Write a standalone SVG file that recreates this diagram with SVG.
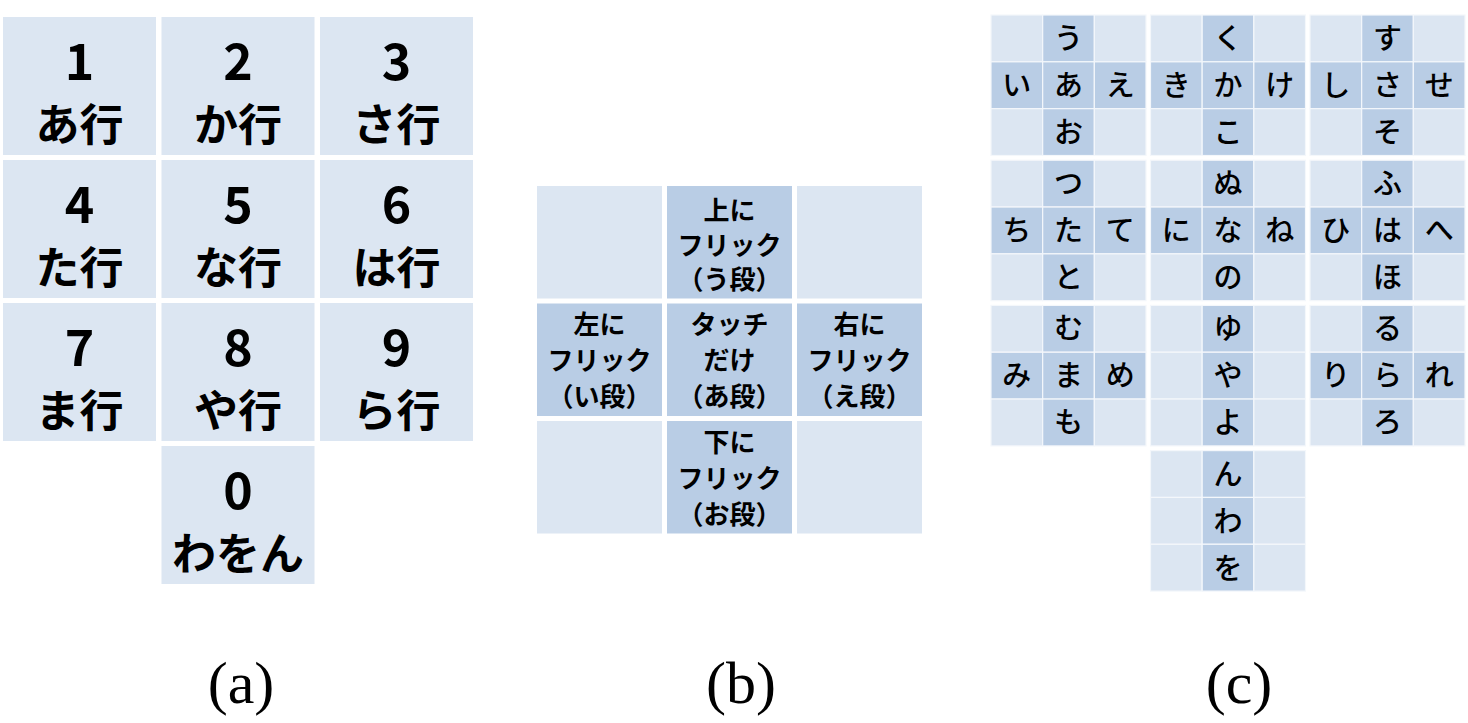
<svg xmlns="http://www.w3.org/2000/svg" width="1468" height="723" viewBox="0 0 1468 723">
<style>
.l{fill:#DCE6F2}
.d{fill:#B9CDE5}
.cc{stroke:#F4F7FB;stroke-width:1.2}
.jp{font-family:"Noto Sans CJK JP","Noto Sans",sans-serif;fill:#000;text-anchor:middle}
.num{font-size:50px;font-weight:bold}
.row{font-size:44px;font-weight:bold}
.fl{font-size:26px;font-weight:bold}
.k{font-size:29px;font-weight:500}
.cap{font-family:"Liberation Serif","Times New Roman",serif;font-size:60px;fill:#000;text-anchor:middle}
</style>
<rect width="1468" height="723" fill="#fff"/>

<!-- Panel (a) -->
<g id="panel-a">
<g id="key-1"><rect class="l" x="3" y="17" width="153" height="138"/><text class="jp num" x="79.5" y="80">1</text><text class="jp row" x="79.5" y="141">あ行</text></g>
<g id="key-2"><rect class="l" x="161.5" y="17" width="153" height="138"/><text class="jp num" x="238" y="80">2</text><text class="jp row" x="238" y="141">か行</text></g>
<g id="key-3"><rect class="l" x="320" y="17" width="153" height="138"/><text class="jp num" x="396.5" y="80">3</text><text class="jp row" x="396.5" y="141">さ行</text></g>
<g id="key-4"><rect class="l" x="3" y="160" width="153" height="138"/><text class="jp num" x="79.5" y="223">4</text><text class="jp row" x="79.5" y="284">た行</text></g>
<g id="key-5"><rect class="l" x="161.5" y="160" width="153" height="138"/><text class="jp num" x="238" y="223">5</text><text class="jp row" x="238" y="284">な行</text></g>
<g id="key-6"><rect class="l" x="320" y="160" width="153" height="138"/><text class="jp num" x="396.5" y="223">6</text><text class="jp row" x="396.5" y="284">は行</text></g>
<g id="key-7"><rect class="l" x="3" y="303" width="153" height="138"/><text class="jp num" x="79.5" y="366">7</text><text class="jp row" x="79.5" y="427">ま行</text></g>
<g id="key-8"><rect class="l" x="161.5" y="303" width="153" height="138"/><text class="jp num" x="238" y="366">8</text><text class="jp row" x="238" y="427">や行</text></g>
<g id="key-9"><rect class="l" x="320" y="303" width="153" height="138"/><text class="jp num" x="396.5" y="366">9</text><text class="jp row" x="396.5" y="427">ら行</text></g>
<g id="key-0"><rect class="l" x="161.5" y="446" width="153" height="138"/><text class="jp num" x="238" y="509">0</text><text class="jp row" x="238" y="570">わをん</text></g>
</g>

<!-- Panel (b) -->
<g id="panel-b">
<g id="b-tl"><rect class="l" x="537" y="186" width="125" height="112.5"/></g>
<g id="b-up"><rect class="d" x="667" y="186" width="125" height="112.5"/><text class="jp fl" x="729.5" y="220">上に<tspan x="729.5" dy="34.5">フリック</tspan><tspan x="729.5" dy="34.5">（う段）</tspan></text></g>
<g id="b-tr"><rect class="l" x="797" y="186" width="125" height="112.5"/></g>
<g id="b-left"><rect class="d" x="537" y="303.5" width="125" height="112.5"/><text class="jp fl" x="599.5" y="334">左に<tspan x="599.5" dy="35.5">フリック</tspan><tspan x="599.5" dy="36">（い段）</tspan></text></g>
<g id="b-center"><rect class="d" x="667" y="303.5" width="125" height="112.5"/><text class="jp fl" x="729.5" y="334">タッチ<tspan x="729.5" dy="35.5">だけ</tspan><tspan x="729.5" dy="36">（あ段）</tspan></text></g>
<g id="b-right"><rect class="d" x="797" y="303.5" width="125" height="112.5"/><text class="jp fl" x="859.5" y="334">右に<tspan x="859.5" dy="35.5">フリック</tspan><tspan x="859.5" dy="36">（え段）</tspan></text></g>
<g id="b-bl"><rect class="l" x="537" y="421" width="125" height="112.5"/></g>
<g id="b-down"><rect class="d" x="667" y="421" width="125" height="112.5"/><text class="jp fl" x="729.5" y="452">下に<tspan x="729.5" dy="35.5">フリック</tspan><tspan x="729.5" dy="36">（お段）</tspan></text></g>
<g id="b-br"><rect class="l" x="797" y="421" width="125" height="112.5"/></g>
</g>

<!-- Panel (c) -->
<g id="panel-c">
<g id="c-a" transform="translate(991,15)">
<rect class="l cc" x="0" y="0" width="51.67" height="46.83"/><rect class="d cc" x="51.67" y="0" width="51.67" height="46.83"/><rect class="l cc" x="103.33" y="0" width="51.67" height="46.83"/>
<rect class="d cc" x="0" y="46.83" width="51.67" height="46.83"/><rect class="d cc" x="51.67" y="46.83" width="51.67" height="46.83"/><rect class="d cc" x="103.33" y="46.83" width="51.67" height="46.83"/>
<rect class="l cc" x="0" y="93.67" width="51.67" height="46.83"/><rect class="d cc" x="51.67" y="93.67" width="51.67" height="46.83"/><rect class="l cc" x="103.33" y="93.67" width="51.67" height="46.83"/>
<text class="jp k" x="77.5" y="34">う</text><text class="jp k" x="25.8" y="81">い</text><text class="jp k" x="77.5" y="81">あ</text><text class="jp k" x="129.2" y="81">え</text><text class="jp k" x="77.5" y="128">お</text>
</g>
<g id="c-ka" transform="translate(1150.5,15)">
<rect class="l cc" x="0" y="0" width="51.67" height="46.83"/><rect class="d cc" x="51.67" y="0" width="51.67" height="46.83"/><rect class="l cc" x="103.33" y="0" width="51.67" height="46.83"/>
<rect class="d cc" x="0" y="46.83" width="51.67" height="46.83"/><rect class="d cc" x="51.67" y="46.83" width="51.67" height="46.83"/><rect class="d cc" x="103.33" y="46.83" width="51.67" height="46.83"/>
<rect class="l cc" x="0" y="93.67" width="51.67" height="46.83"/><rect class="d cc" x="51.67" y="93.67" width="51.67" height="46.83"/><rect class="l cc" x="103.33" y="93.67" width="51.67" height="46.83"/>
<text class="jp k" x="77.5" y="34">く</text><text class="jp k" x="25.8" y="81">き</text><text class="jp k" x="77.5" y="81">か</text><text class="jp k" x="129.2" y="81">け</text><text class="jp k" x="77.5" y="128">こ</text>
</g>
<g id="c-sa" transform="translate(1310,15)">
<rect class="l cc" x="0" y="0" width="51.67" height="46.83"/><rect class="d cc" x="51.67" y="0" width="51.67" height="46.83"/><rect class="l cc" x="103.33" y="0" width="51.67" height="46.83"/>
<rect class="d cc" x="0" y="46.83" width="51.67" height="46.83"/><rect class="d cc" x="51.67" y="46.83" width="51.67" height="46.83"/><rect class="d cc" x="103.33" y="46.83" width="51.67" height="46.83"/>
<rect class="l cc" x="0" y="93.67" width="51.67" height="46.83"/><rect class="d cc" x="51.67" y="93.67" width="51.67" height="46.83"/><rect class="l cc" x="103.33" y="93.67" width="51.67" height="46.83"/>
<text class="jp k" x="77.5" y="34">す</text><text class="jp k" x="25.8" y="81">し</text><text class="jp k" x="77.5" y="81">さ</text><text class="jp k" x="129.2" y="81">せ</text><text class="jp k" x="77.5" y="128">そ</text>
</g>
<g id="c-ta" transform="translate(991,160.2)">
<rect class="l cc" x="0" y="0" width="51.67" height="46.83"/><rect class="d cc" x="51.67" y="0" width="51.67" height="46.83"/><rect class="l cc" x="103.33" y="0" width="51.67" height="46.83"/>
<rect class="d cc" x="0" y="46.83" width="51.67" height="46.83"/><rect class="d cc" x="51.67" y="46.83" width="51.67" height="46.83"/><rect class="d cc" x="103.33" y="46.83" width="51.67" height="46.83"/>
<rect class="l cc" x="0" y="93.67" width="51.67" height="46.83"/><rect class="d cc" x="51.67" y="93.67" width="51.67" height="46.83"/><rect class="l cc" x="103.33" y="93.67" width="51.67" height="46.83"/>
<text class="jp k" x="77.5" y="34">つ</text><text class="jp k" x="25.8" y="81">ち</text><text class="jp k" x="77.5" y="81">た</text><text class="jp k" x="129.2" y="81">て</text><text class="jp k" x="77.5" y="128">と</text>
</g>
<g id="c-na" transform="translate(1150.5,160.2)">
<rect class="l cc" x="0" y="0" width="51.67" height="46.83"/><rect class="d cc" x="51.67" y="0" width="51.67" height="46.83"/><rect class="l cc" x="103.33" y="0" width="51.67" height="46.83"/>
<rect class="d cc" x="0" y="46.83" width="51.67" height="46.83"/><rect class="d cc" x="51.67" y="46.83" width="51.67" height="46.83"/><rect class="d cc" x="103.33" y="46.83" width="51.67" height="46.83"/>
<rect class="l cc" x="0" y="93.67" width="51.67" height="46.83"/><rect class="d cc" x="51.67" y="93.67" width="51.67" height="46.83"/><rect class="l cc" x="103.33" y="93.67" width="51.67" height="46.83"/>
<text class="jp k" x="77.5" y="34">ぬ</text><text class="jp k" x="25.8" y="81">に</text><text class="jp k" x="77.5" y="81">な</text><text class="jp k" x="129.2" y="81">ね</text><text class="jp k" x="77.5" y="128">の</text>
</g>
<g id="c-ha" transform="translate(1310,160.2)">
<rect class="l cc" x="0" y="0" width="51.67" height="46.83"/><rect class="d cc" x="51.67" y="0" width="51.67" height="46.83"/><rect class="l cc" x="103.33" y="0" width="51.67" height="46.83"/>
<rect class="d cc" x="0" y="46.83" width="51.67" height="46.83"/><rect class="d cc" x="51.67" y="46.83" width="51.67" height="46.83"/><rect class="d cc" x="103.33" y="46.83" width="51.67" height="46.83"/>
<rect class="l cc" x="0" y="93.67" width="51.67" height="46.83"/><rect class="d cc" x="51.67" y="93.67" width="51.67" height="46.83"/><rect class="l cc" x="103.33" y="93.67" width="51.67" height="46.83"/>
<text class="jp k" x="77.5" y="34">ふ</text><text class="jp k" x="25.8" y="81">ひ</text><text class="jp k" x="77.5" y="81">は</text><text class="jp k" x="129.2" y="81">へ</text><text class="jp k" x="77.5" y="128">ほ</text>
</g>
<g id="c-ma" transform="translate(991,305.4)">
<rect class="l cc" x="0" y="0" width="51.67" height="46.83"/><rect class="d cc" x="51.67" y="0" width="51.67" height="46.83"/><rect class="l cc" x="103.33" y="0" width="51.67" height="46.83"/>
<rect class="d cc" x="0" y="46.83" width="51.67" height="46.83"/><rect class="d cc" x="51.67" y="46.83" width="51.67" height="46.83"/><rect class="d cc" x="103.33" y="46.83" width="51.67" height="46.83"/>
<rect class="l cc" x="0" y="93.67" width="51.67" height="46.83"/><rect class="d cc" x="51.67" y="93.67" width="51.67" height="46.83"/><rect class="l cc" x="103.33" y="93.67" width="51.67" height="46.83"/>
<text class="jp k" x="77.5" y="34">む</text><text class="jp k" x="25.8" y="81">み</text><text class="jp k" x="77.5" y="81">ま</text><text class="jp k" x="129.2" y="81">め</text><text class="jp k" x="77.5" y="128">も</text>
</g>
<g id="c-ya" transform="translate(1150.5,305.4)">
<rect class="l cc" x="0" y="0" width="51.67" height="46.83"/><rect class="d cc" x="51.67" y="0" width="51.67" height="46.83"/><rect class="l cc" x="103.33" y="0" width="51.67" height="46.83"/>
<rect class="l cc" x="0" y="46.83" width="51.67" height="46.83"/><rect class="d cc" x="51.67" y="46.83" width="51.67" height="46.83"/><rect class="l cc" x="103.33" y="46.83" width="51.67" height="46.83"/>
<rect class="l cc" x="0" y="93.67" width="51.67" height="46.83"/><rect class="d cc" x="51.67" y="93.67" width="51.67" height="46.83"/><rect class="l cc" x="103.33" y="93.67" width="51.67" height="46.83"/>
<text class="jp k" x="77.5" y="34">ゆ</text><text class="jp k" x="77.5" y="81">や</text><text class="jp k" x="77.5" y="128">よ</text>
</g>
<g id="c-ra" transform="translate(1310,305.4)">
<rect class="l cc" x="0" y="0" width="51.67" height="46.83"/><rect class="d cc" x="51.67" y="0" width="51.67" height="46.83"/><rect class="l cc" x="103.33" y="0" width="51.67" height="46.83"/>
<rect class="d cc" x="0" y="46.83" width="51.67" height="46.83"/><rect class="d cc" x="51.67" y="46.83" width="51.67" height="46.83"/><rect class="d cc" x="103.33" y="46.83" width="51.67" height="46.83"/>
<rect class="l cc" x="0" y="93.67" width="51.67" height="46.83"/><rect class="d cc" x="51.67" y="93.67" width="51.67" height="46.83"/><rect class="l cc" x="103.33" y="93.67" width="51.67" height="46.83"/>
<text class="jp k" x="77.5" y="34">る</text><text class="jp k" x="25.8" y="81">り</text><text class="jp k" x="77.5" y="81">ら</text><text class="jp k" x="129.2" y="81">れ</text><text class="jp k" x="77.5" y="128">ろ</text>
</g>
<g id="c-wa" transform="translate(1150.5,450.6)">
<rect class="l cc" x="0" y="0" width="51.67" height="46.83"/><rect class="d cc" x="51.67" y="0" width="51.67" height="46.83"/><rect class="l cc" x="103.33" y="0" width="51.67" height="46.83"/>
<rect class="l cc" x="0" y="46.83" width="51.67" height="46.83"/><rect class="d cc" x="51.67" y="46.83" width="51.67" height="46.83"/><rect class="l cc" x="103.33" y="46.83" width="51.67" height="46.83"/>
<rect class="l cc" x="0" y="93.67" width="51.67" height="46.83"/><rect class="d cc" x="51.67" y="93.67" width="51.67" height="46.83"/><rect class="l cc" x="103.33" y="93.67" width="51.67" height="46.83"/>
<text class="jp k" x="77.5" y="34">ん</text><text class="jp k" x="77.5" y="81">わ</text><text class="jp k" x="77.5" y="128">を</text>
</g>
</g>

<g id="connectors"></g>

<g id="captions">
<text class="cap" x="241" y="703">(a)</text>
<text class="cap" x="741" y="703">(b)</text>
<text class="cap" x="1239" y="703">(c)</text>
</g>
</svg>
